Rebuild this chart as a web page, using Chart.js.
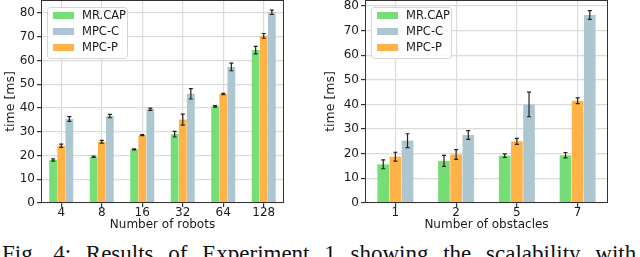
<!DOCTYPE html>
<html>
<head>
<meta charset="utf-8">
<script src="https://cdn.jsdelivr.net/npm/chart.js@4.4.0/dist/chart.umd.min.js"></script>
<style>
    body { margin: 0; width: 640px; height: 257px; overflow: hidden; background: #fff; position: relative; }
    .box { position: absolute; top: 0; width: 320px; height: 234px; }
    #leftBox { left: 0; }
    #rightBox { left: 320px; }
    #caption {
        position: absolute; left: 2px; top: 242px; line-height: 1;
        font-family: 'Liberation Serif', serif; font-size: 23px;
        white-space: nowrap; word-spacing: 9px; color: #111;
    }
</style>
</head>
<body>
<div class="box" id="leftBox"><canvas id="chartRobots"></canvas></div>
<div class="box" id="rightBox"><canvas id="chartObstacles"></canvas></div>
<div id="caption">Fig. 4: Results of Experiment 1 showing the scalability with</div>
<script>
// -----------------------------
// Data
// -----------------------------
const seriesNames = ['MR.CAP', 'MPC-P', 'MPC-C'];
const legendOrder = ['MR.CAP', 'MPC-C', 'MPC-P'];
const seriesColors = ['#77dd77', '#ffb347', '#aec6cf'];

const robotCounts = ['4', '8', '16', '32', '64', '128'];
const robotsMrcap = [18.1, 19.5, 22.6, 29.0, 40.7, 64.4];
const robotsMrcapErr = [0.5, 0.3, 0.2, 1.2, 0.3, 1.6];
const robotsMpcP = [24.1, 25.8, 28.6, 35.1, 45.9, 70.4];
const robotsMpcPErr = [0.7, 0.6, 0.2, 2.3, 0.3, 1.0];
const robotsMpcC = [35.4, 36.6, 39.5, 46.0, 57.3, 80.3];
const robotsMpcCErr = [1.0, 0.7, 0.5, 2.2, 1.6, 0.9];

const obstacleCounts = ['1', '2', '5', '7'];
const obstMrcap = [15.7, 17.1, 19.2, 19.4];
const obstMrcapErr = [1.8, 2.2, 0.7, 1.1];
const obstMpcP = [18.8, 19.7, 25.0, 41.5];
const obstMpcPErr = [1.8, 2.0, 1.2, 1.2];
const obstMpcC = [25.3, 27.6, 40.0, 76.3];
const obstMpcCErr = [2.8, 1.8, 5.0, 1.8];

const yTicks = [0, 10, 20, 30, 40, 50, 60, 70, 80];

// -----------------------------
// Plugins
// -----------------------------
const errorBars = {
    id: 'errorBars',
    afterDatasetsDraw(chart) {
        const ctx = chart.ctx;
        const y = chart.scales.y;
        ctx.save();
        ctx.strokeStyle = '#222';
        ctx.lineWidth = 1.2;
        chart.data.datasets.forEach((ds, i) => {
            chart.getDatasetMeta(i).data.forEach((bar, j) => {
                const v = ds.data[j], e = ds.errors[j];
                const top = y.getPixelForValue(v + e);
                const bot = y.getPixelForValue(v - e);
                ctx.beginPath();
                ctx.moveTo(bar.x, top); ctx.lineTo(bar.x, bot);
                ctx.moveTo(bar.x - 2, top); ctx.lineTo(bar.x + 2, top);
                ctx.moveTo(bar.x - 2, bot); ctx.lineTo(bar.x + 2, bot);
                ctx.stroke();
            });
        });
        ctx.restore();
    }
};

const frameAndLegend = {
    id: 'frameAndLegend',
    afterDraw(chart) {
        const ctx = chart.ctx;
        const a = chart.chartArea;
        ctx.save();
        ctx.strokeStyle = '#333';
        ctx.lineWidth = 1;
        ctx.strokeRect(Math.round(a.left) + 0.5, Math.round(a.top) + 0.5,
            Math.round(a.right - a.left) - 1, Math.round(a.bottom - a.top) - 1);

        // legend box
        const lx = a.left + 6, ly = a.top + 7, lw = 80, lh = 51;
        ctx.beginPath();
        ctx.roundRect(lx + 0.5, ly + 0.5, lw, lh, 3);
        ctx.fillStyle = 'rgba(255,255,255,0.85)';
        ctx.fill();
        ctx.strokeStyle = '#d6d6d6';
        ctx.stroke();
        ctx.font = '11.5px "DejaVu Sans"';
        ctx.textBaseline = 'middle';
        legendOrder.forEach((name, k) => {
            const idx = seriesNames.indexOf(name);
            const cy = ly + 8.5 + k * 16;
            ctx.fillStyle = seriesColors[idx];
            ctx.fillRect(lx + 6, cy - 3.5, 21, 7);
            ctx.fillStyle = '#1a1a1a';
            ctx.fillText(name, lx + 35, cy + 0.5);
        });
        ctx.restore();
    }
};

// -----------------------------
// Chart builder
// -----------------------------
function makeChart(id, labels, values, errors, yMax, xTitle, axisWidth, padRight) {
    const ctx = document.getElementById(id).getContext('2d');
    return new Chart(ctx, {
        type: 'bar',
        data: {
            labels: labels,
            datasets: seriesNames.map((name, i) => ({
                label: name,
                data: values[i],
                errors: errors[i],
                backgroundColor: seriesColors[i],
                categoryPercentage: 0.6,
                barPercentage: 0.96
            }))
        },
        options: {
            responsive: true,
            maintainAspectRatio: false,
            animation: false,
            layout: { padding: { top: 0, right: padRight, left: 0, bottom: 0 } },
            plugins: { legend: { display: false }, tooltip: { enabled: false } },
            scales: {
                x: {
                    offset: true,
                    grid: { offset: false, color: '#dcdcdc', lineWidth: 1.2, tickLength: 4, tickColor: '#333' },
                    border: { display: false },
                    ticks: { color: '#1a1a1a', font: { family: 'DejaVu Sans', size: 12 }, padding: -1, maxRotation: 0 },
                    title: { display: true, text: xTitle, color: '#1a1a1a', font: { family: 'DejaVu Sans', size: 12 }, padding: { top: 0, bottom: 2 } },
                    afterFit: s => { s.height = 31; s.paddingLeft = 0; s.paddingRight = 0; }
                },
                y: {
                    min: 0,
                    max: yMax,
                    afterBuildTicks: s => { s.ticks = yTicks.map(v => ({ value: v })); },
                    grid: { color: '#dcdcdc', lineWidth: 1.2, tickLength: 4, tickColor: '#333' },
                    border: { display: false },
                    ticks: { color: '#1a1a1a', font: { family: 'DejaVu Sans', size: 12 }, padding: 2 },
                    title: { display: true, text: 'time [ms]', color: '#1a1a1a', font: { family: 'DejaVu Sans', size: 12.5 }, padding: { top: 3, bottom: 0 } },
                    afterFit: s => { s.width = axisWidth; s.paddingTop = 0; s.paddingBottom = 0; }
                }
            }
        },
        plugins: [errorBars, frameAndLegend]
    });
}

makeChart('chartRobots', robotCounts,
    [robotsMrcap, robotsMpcP, robotsMpcC],
    [robotsMrcapErr, robotsMpcPErr, robotsMpcCErr],
    85.5, 'Number of robots', 41, 36);

makeChart('chartObstacles', obstacleCounts,
    [obstMrcap, obstMpcP, obstMpcC],
    [obstMrcapErr, obstMpcPErr, obstMpcCErr],
    82.4, 'Number of obstacles', 45, 32);
</script>
</body>
</html>
